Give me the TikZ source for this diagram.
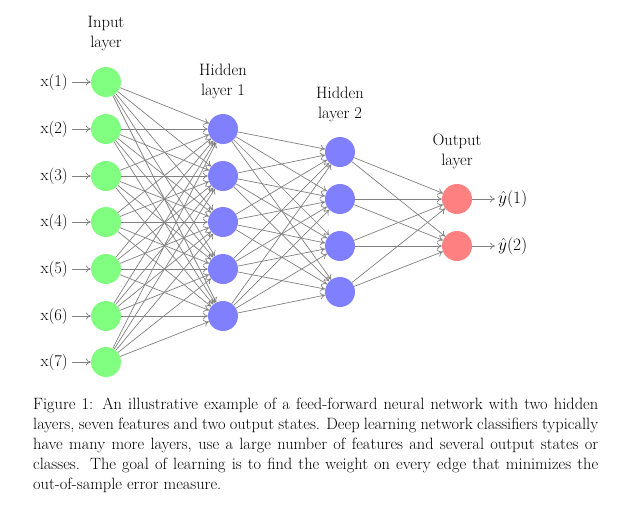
\documentclass[tikz,border=0pt]{standalone}
\usetikzlibrary{arrows.meta}
\begin{document}
\begin{tikzpicture}[x=1pt,y=-1pt,
 neuron/.style={circle,minimum size=30pt,inner sep=0pt},
 inp/.style={neuron,fill=green!50},
 hid/.style={neuron,fill=blue!50},
 outp/.style={neuron,fill=red!50},
 edge/.style={-{To[length=5pt,width=7pt]},draw=black!50,line width=0.7pt},
 lbl/.style={align=center,font=\fontsize{16.5}{20}\selectfont}]
\useasboundingbox (0,0) rectangle (625,507);
\foreach \i/\y in {1/82,2/129,3/176,4/222,5/269,6/316,7/362}{
  \node[inp] (I\i) at (106,\y) {};
  \node[anchor=east,font=\fontsize{16.5}{19}\selectfont,inner sep=1pt] (L\i) at (69,\y) {x(\i)};
  \draw[edge] ([xshift=3pt]L\i.east) -- (I\i);
}
\foreach \i/\y in {1/129,2/176,3/222,4/269,5/316}{\node[hid] (H\i) at (223,\y) {};}
\foreach \i/\y in {1/152,2/199,3/246,4/292}{\node[hid] (G\i) at (340,\y) {};}
\foreach \i/\y in {1/199,2/246}{
  \node[outp] (O\i) at (457,\y) {};
  \node[anchor=west,font=\fontsize{16.5}{19}\selectfont,inner sep=1pt] (Y\i) at (497,\y) {$\hat{y}(\i)$};
  \draw[edge] (O\i) -- ([xshift=-2pt]Y\i.west);
}
\foreach \s in {1,...,7}{\foreach \t in {1,...,5}{\draw[edge] (I\s) -- (H\t);}}
\foreach \s in {1,...,5}{\foreach \t in {1,...,4}{\draw[edge] (H\s) -- (G\t);}}
\foreach \s in {1,...,4}{\foreach \t in {1,2}{\draw[edge] (G\s) -- (O\t);}}
\node[lbl] (t1) at (106,34) {Input\\layer};
\node[lbl] (t2) at (223,81) {Hidden\\layer 1};
\node[lbl] (t3) at (340,104) {Hidden\\layer 2};
\node[lbl] (t4) at (457,151) {Output\\layer};
\node[anchor=north west,text width=565pt,align=justify,inner sep=0pt,font=\fontsize{16.4}{20}\selectfont] (cap) at (33,398)
{Figure 1: An illustrative example of a feed-forward neural network with two hidden layers, seven features and two output states. Deep learning network classifiers typically have many more layers, use a large number of features and several output states or classes. The goal of learning is to find the weight on every edge that minimizes the out-of-sample error measure.};
\end{tikzpicture}
\end{document}
